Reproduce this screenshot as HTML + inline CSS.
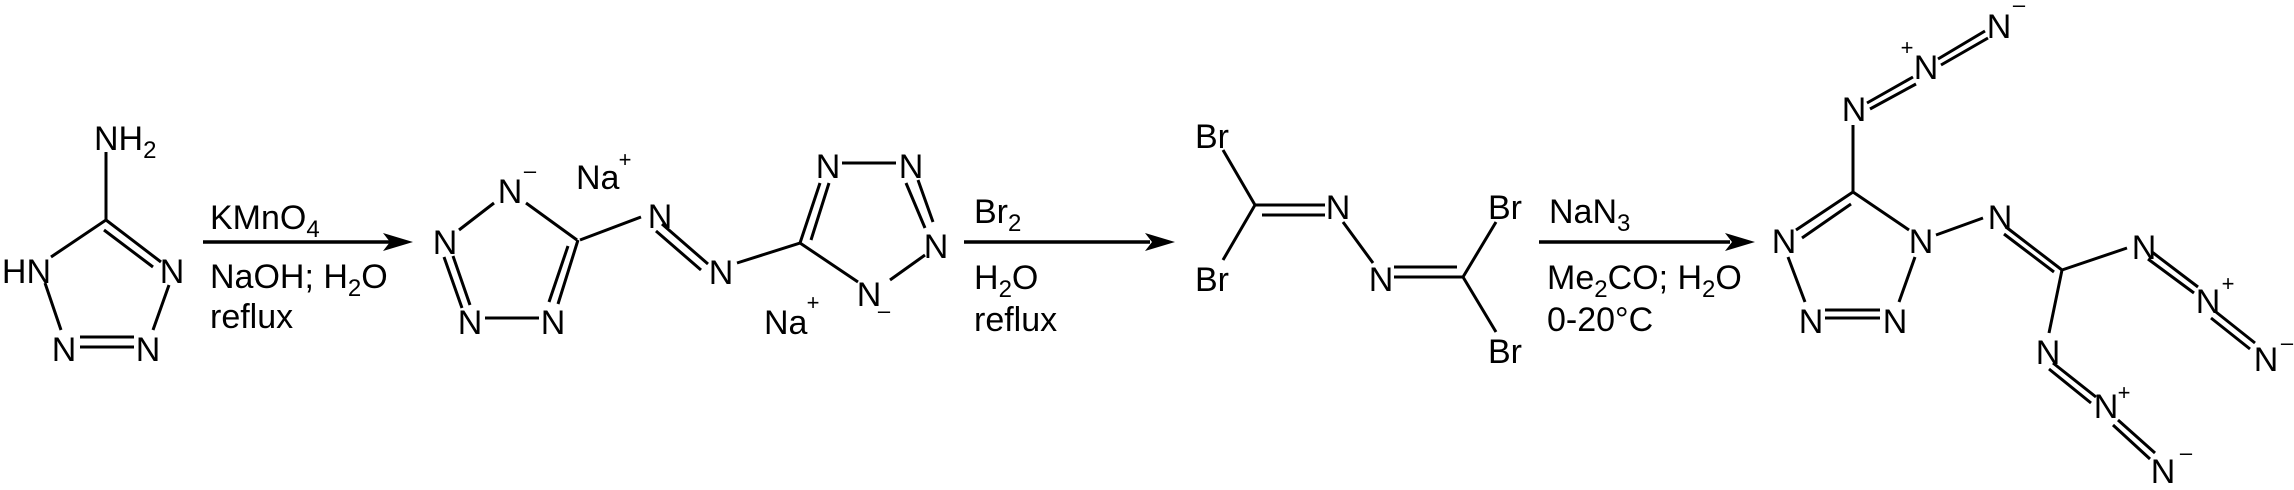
<!DOCTYPE html>
<html><head><meta charset="utf-8"><style>
html,body{margin:0;padding:0;background:#fff;}
svg{display:block;}
text{font-family:"Liberation Sans",Arial,sans-serif;font-size:34px;fill:#000;}
.s{font-size:24px;}
.c{font-size:22px;}
</style></head><body>
<svg width="2294" height="490" viewBox="0 0 2294 490" xmlns="http://www.w3.org/2000/svg">
<g stroke="#000" stroke-width="3" fill="none">
<path d="M106 152V220L51 257M106 220L161 262M104 230L153 267M45 283L61 330M80 337H134M80 347H134M169 285L153 330"/>
<path d="M494 203L459 230M444 257L462 308M453 256L470 305M485 318H539M549 302L568 246M558 304L578 240M577 240L526 203M580 240L641 217M662 224L708 264M656 231L701 270M737 263L800 243L820 183M811 240L829 183M842 163H896M906 183L925 228M918 180L933 222M925 255L890 280M858 282L800 243"/>
<path d="M1223 150L1255 205H1325M1262 215H1325M1255 205L1223 260M1343 222L1373 263M1394 267H1457M1394 277H1463L1496 222M1463 277L1496 332"/>
<path d="M1796 230L1853 192M1802 238L1851 204M1853 192V125M1867 103L1913 77M1870 109L1916 84M1938 59L1985 31M1941 65L1988 38M1853 192L1909 230M1915 257L1899 302M1825 310H1880M1825 318H1880M1788 257L1805 302M1936 235L1983 218M2006 227L2062 270M2004 234L2054 272M2062 270L2127 248M2152 252L2198 287M2148 259L2194 293M2216 312L2255 343M2211 318L2250 349M2062 270L2049 333M2053 363L2096 397M2049 369L2091 403M2118 420L2155 453M2113 425L2150 459"/>
<path stroke-width="3.5" d="M203 242H390M964 242H1150M1539 242H1730"/>
</g>
<g fill="#000">
<polygon points="413,242 383,233 390,242 383,251"/>
<polygon points="1175,242 1145,233 1152,242 1145,251"/>
<polygon points="1755,242 1725,233 1732,242 1725,251"/>
</g>
<text x="94" y="150">NH<tspan class="s" dy="8">2</tspan></text>
<text x="51" y="283" text-anchor="end">HN</text>
<text x="172" y="283" text-anchor="middle">N</text>
<text x="64" y="361" text-anchor="middle">N</text>
<text x="148" y="361" text-anchor="middle">N</text>
<text x="210" y="229">KMnO<tspan class="s" dy="8">4</tspan></text>
<text x="210" y="288">NaOH; H<tspan class="s" dy="8">2</tspan><tspan dy="-8">O</tspan></text>
<text x="210" y="328">reflux</text>
<text x="510" y="203" text-anchor="middle">N</text>
<text class="c" x="530" y="178" text-anchor="middle">–</text>
<text x="576" y="189">Na</text>
<text class="c" x="625" y="167" text-anchor="middle">+</text>
<text x="445" y="254" text-anchor="middle">N</text>
<text x="470" y="334" text-anchor="middle">N</text>
<text x="553" y="334" text-anchor="middle">N</text>
<text x="660" y="228" text-anchor="middle">N</text>
<text x="721" y="284" text-anchor="middle">N</text>
<text x="828" y="178" text-anchor="middle">N</text>
<text x="911" y="178" text-anchor="middle">N</text>
<text x="936" y="258" text-anchor="middle">N</text>
<text x="869" y="306" text-anchor="middle">N</text>
<text class="c" x="884" y="318" text-anchor="middle">–</text>
<text x="764" y="334">Na</text>
<text class="c" x="813" y="310" text-anchor="middle">+</text>
<text x="974" y="223">Br<tspan class="s" dy="8">2</tspan></text>
<text x="974" y="289">H<tspan class="s" dy="8">2</tspan><tspan dy="-8">O</tspan></text>
<text x="974" y="331">reflux</text>
<text x="1212" y="148" text-anchor="middle">Br</text>
<text x="1212" y="291" text-anchor="middle">Br</text>
<text x="1338" y="219" text-anchor="middle">N</text>
<text x="1381" y="291" text-anchor="middle">N</text>
<text x="1505" y="219" text-anchor="middle">Br</text>
<text x="1505" y="363" text-anchor="middle">Br</text>
<text x="1549" y="223">NaN<tspan class="s" dy="8">3</tspan></text>
<text x="1547" y="289">Me<tspan class="s" dy="8">2</tspan><tspan dy="-8">CO; H</tspan><tspan class="s" dy="8">2</tspan><tspan dy="-8">O</tspan></text>
<text x="1547" y="331">0-20°C</text>
<text x="1784" y="253" text-anchor="middle">N</text>
<text x="1854" y="121" text-anchor="middle">N</text>
<text x="1926" y="79" text-anchor="middle">N</text>
<text class="c" x="1907" y="55" text-anchor="middle">+</text>
<text x="1999" y="38" text-anchor="middle">N</text>
<text class="c" x="2019" y="12" text-anchor="middle">–</text>
<text x="1921" y="253" text-anchor="middle">N</text>
<text x="1895" y="333" text-anchor="middle">N</text>
<text x="1811" y="333" text-anchor="middle">N</text>
<text x="2000" y="229" text-anchor="middle">N</text>
<text x="2144" y="259" text-anchor="middle">N</text>
<text x="2208" y="313" text-anchor="middle">N</text>
<text class="c" x="2228" y="291" text-anchor="middle">+</text>
<text x="2266" y="371" text-anchor="middle">N</text>
<text class="c" x="2287" y="350" text-anchor="middle">–</text>
<text x="2048" y="364" text-anchor="middle">N</text>
<text x="2106" y="418" text-anchor="middle">N</text>
<text class="c" x="2124" y="400" text-anchor="middle">+</text>
<text x="2163" y="483" text-anchor="middle">N</text>
<text class="c" x="2186" y="460" text-anchor="middle">–</text>
</svg>
</body></html>
